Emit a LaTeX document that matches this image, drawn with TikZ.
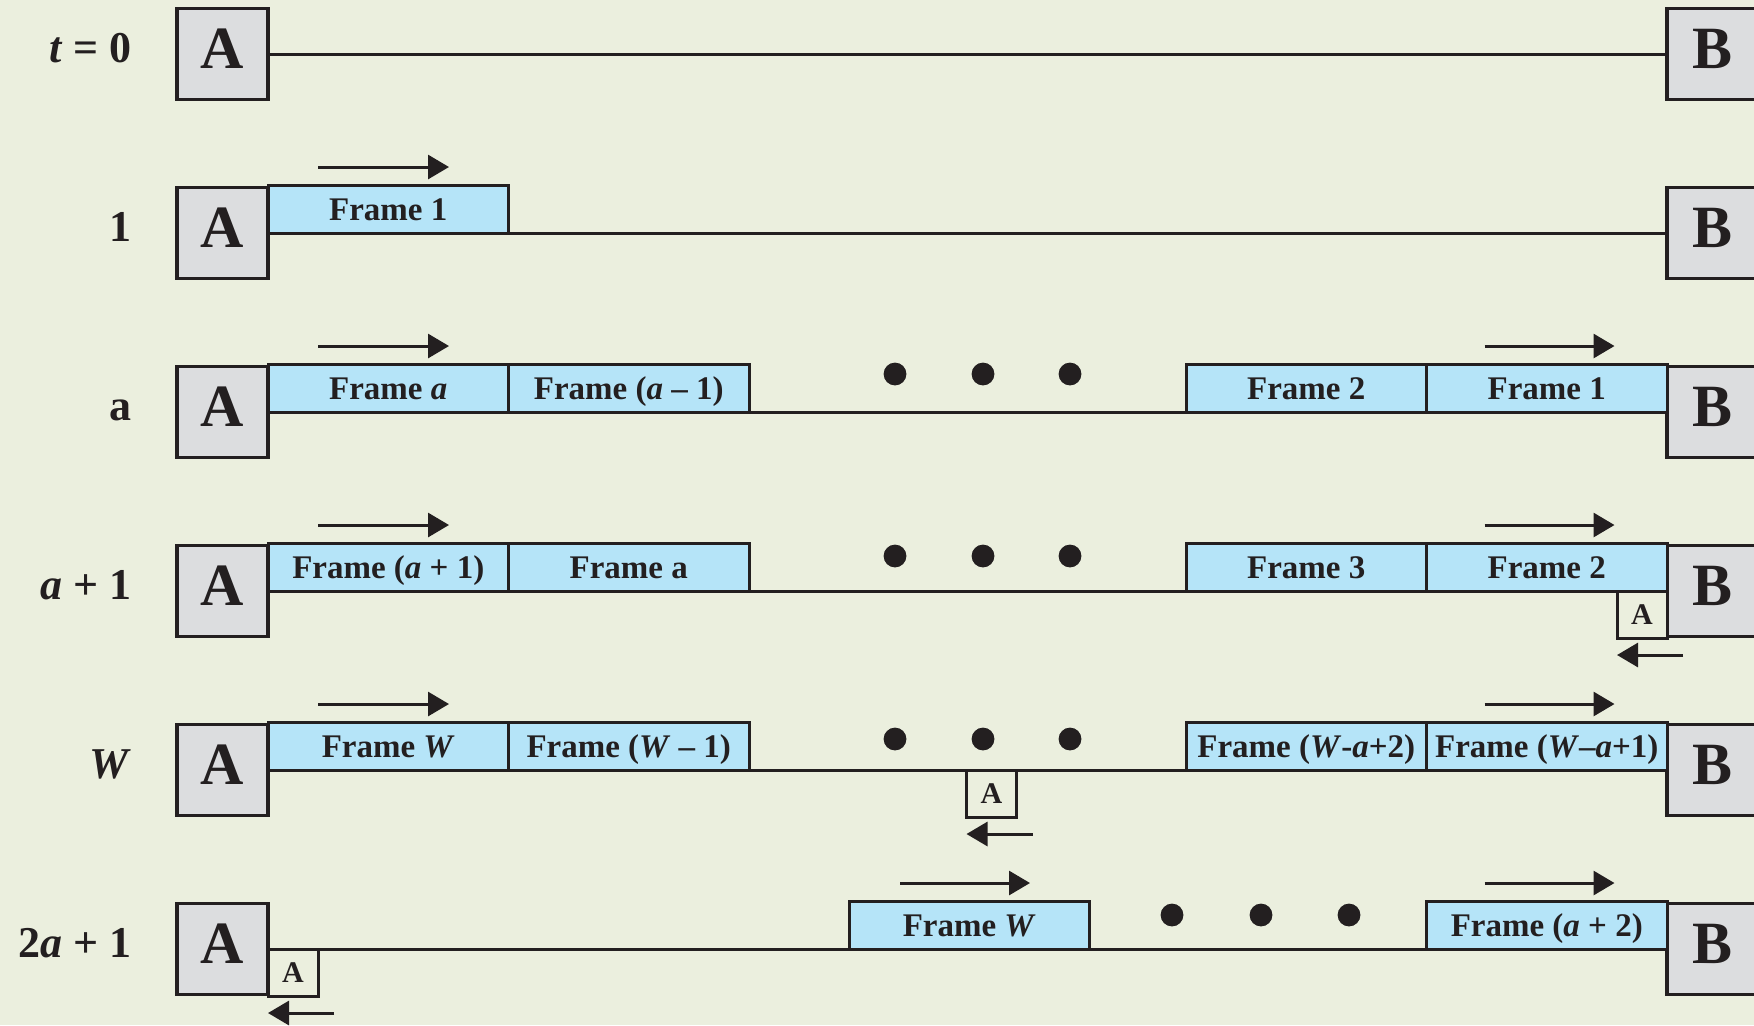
\documentclass[tikz,border=0pt]{standalone}
\usepackage{fontspec}
\setmainfont{Liberation Serif}
\usetikzlibrary{arrows.meta,positioning,calc}
\definecolor{paper}{RGB}{235,239,222}
\definecolor{ink}{RGB}{35,31,32}
\definecolor{framefill}{RGB}{181,228,248}
\definecolor{stationfill}{RGB}{220,221,223}
\tikzset{
    station/.style={draw=ink, line width=1.7pt, fill=stationfill, minimum width=45.5pt, minimum height=45.5pt, inner sep=0pt, outer sep=0pt, text height=20pt, text depth=6pt, font=\fontsize{30}{32}\selectfont\bfseries, text=ink},
    frame/.style={draw=ink, line width=1.5pt, fill=framefill, minimum width=120.25pt, minimum height=24pt, inner sep=0pt, outer sep=0pt, text height=11pt, text depth=0pt, font=\fontsize{16.5}{19}\selectfont\bfseries, text=ink},
    ack/.style={draw=ink, line width=1.5pt, fill=paper, minimum width=25pt, minimum height=23.5pt, inner sep=0pt, outer sep=0pt, text height=10pt, text depth=0pt, font=\fontsize{15}{17}\selectfont\bfseries, text=ink},
    rowlab/.style={anchor=base east, inner sep=0pt, font=\fontsize{22}{26}\selectfont\bfseries, text=ink},
    link/.style={draw=ink, line width=1.5pt},
    fwd/.style={draw=ink, line width=1.5pt, -{Triangle[length=10.5pt,width=12pt]}},
    back/.style={fwd}
}

\begin{document}
\begin{tikzpicture}[x=0.5pt, y=-0.5pt]
    \fill[paper] (0,0) rectangle (1754,1025);
    \clip (0,0) rectangle (1754,1025);
    % stations and the link between them
    \foreach \r/\y/\lab in {0/54/{\textit{t} = 0}, 1/233/1, 2/412/a, 3/591/{\textit{a} + 1}, 4/770/\textit{W}, 5/949/{2\textit{a} + 1}} {
        \node[station] (A\r) at (222.5,\y) {A};
        \node[station] (B\r) at (1712.5,\y) {B};
        \node[rowlab] (L\r) at (132,\y+8) {\lab};
        \draw[link] (A\r) -- (B\r);
    }
    % t = 1
    \node[frame, anchor=south west] (f1a) at (A1.east) {Frame 1};
    \draw[fwd] ($(f1a.north west)+(50,-18)$) -- ++(131,0);
    % t = a
    \node[frame, anchor=south west] (f2a) at (A2.east) {Frame \textit{a}};
    \node[frame, right=0pt of f2a] (f2b) {Frame (\textit{a} – 1)};
    \node[frame, anchor=south east] (f2d) at (B2.west) {Frame 1};
    \node[frame, left=0pt of f2d] (f2c) {Frame 2};
    \draw[fwd] ($(f2a.north west)+(50,-18)$) -- ++(131,0);
    \draw[fwd] ($(f2d.north west)+(58,-18)$) -- ++(130,0);
    \foreach \x in {895,983,1070} \fill[ink] (\x,374) circle (11.4);
    % t = a + 1
    \node[frame, anchor=south west] (f3a) at (A3.east) {Frame (\textit{a} + 1)};
    \node[frame, right=0pt of f3a] (f3b) {Frame a};
    \node[frame, anchor=south east] (f3d) at (B3.west) {Frame 2};
    \node[frame, left=0pt of f3d] (f3c) {Frame 3};
    \draw[fwd] ($(f3a.north west)+(50,-18)$) -- ++(131,0);
    \draw[fwd] ($(f3d.north west)+(58,-18)$) -- ++(130,0);
    \foreach \x in {895,983,1070} \fill[ink] (\x,556) circle (11.4);
    \node[ack, anchor=north east] (k3) at (f3d.south east) {A};
    \draw[back] ($(k3.south west)+(66,17)$) -- ++(-66,0);
    % t = W
    \node[frame, anchor=south west] (f4a) at (A4.east) {Frame \textit{W}};
    \node[frame, right=0pt of f4a] (f4b) {Frame (\textit{W} – 1)};
    \node[frame, anchor=south east] (f4d) at (B4.west) {Frame (\textit{W}–\textit{a}+1)};
    \node[frame, left=0pt of f4d] (f4c) {Frame (\textit{W}-\textit{a}+2)};
    \draw[fwd] ($(f4a.north west)+(50,-18)$) -- ++(131,0);
    \draw[fwd] ($(f4d.north west)+(58,-18)$) -- ++(130,0);
    \foreach \x in {895,983,1070} \fill[ink] (\x,739) circle (11.4);
    \node[ack, anchor=north west] (k4) at (966.5,770) {A};
    \draw[back] ($(k4.south west)+(66,17)$) -- ++(-66,0);
    % t = 2a + 1
    \node[frame, anchor=south west] (f5a) at (849,949) {Frame \textit{W}};
    \node[frame, anchor=south east] (f5b) at (B5.west) {Frame (\textit{a} + 2)};
    \draw[fwd] ($(f5a.north west)+(51,-18)$) -- ++(130,0);
    \draw[fwd] ($(f5b.north west)+(58,-18)$) -- ++(130,0);
    \foreach \x in {1172,1261,1349} \fill[ink] (\x,915) circle (11.4);
    \node[ack, anchor=north west] (k5) at (A5.east) {A};
    \draw[back] ($(k5.south west)+(66,17)$) -- ++(-66,0);
\end{tikzpicture}
\end{document}
